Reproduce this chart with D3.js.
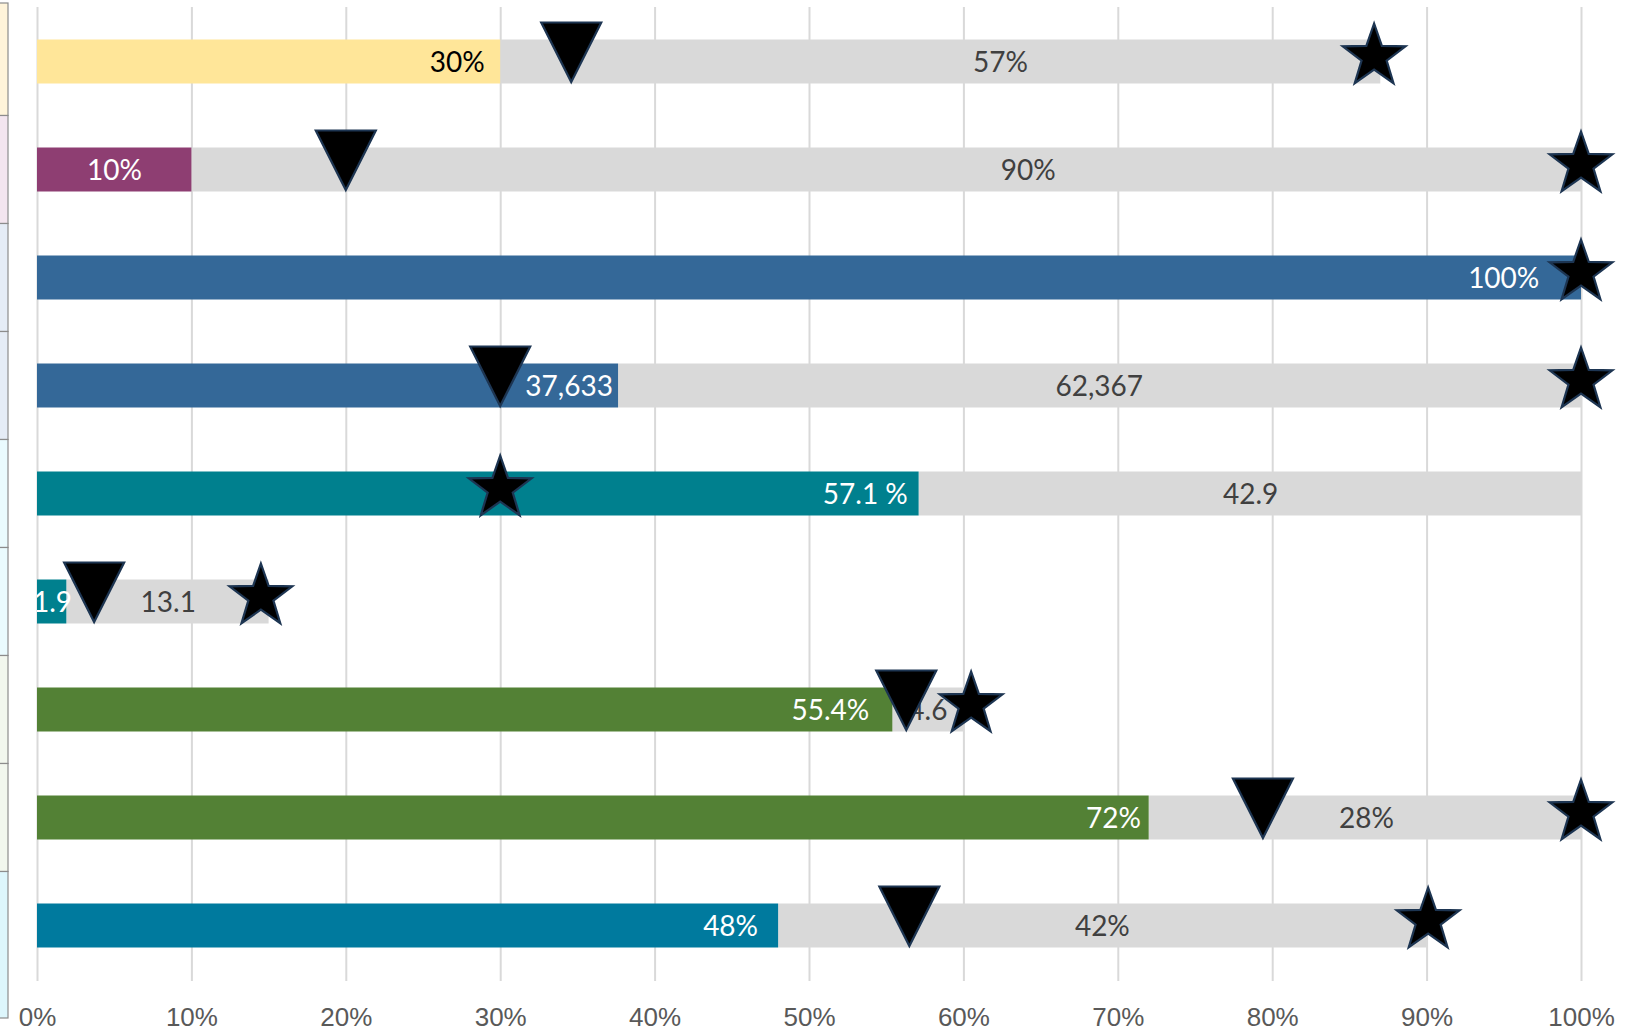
<!DOCTYPE html>
<html>
<head>
<meta charset="utf-8">
<script src="https://cdn.jsdelivr.net/npm/d3@7"></script>
<style>
	body { margin: 0; background: #fff; }
	svg { display: block; font-family: Lato, "Open Sans", sans-serif; }
</style>
</head>
<body>
<svg id="chart" width="1641" height="1033"></svg>
<script>
// share of the full bar (1 = 100%)
const filled = [0.30, 0.10, 1.00, 0.37633, 0.571, 0.019, 0.554, 0.72, 0.48];
const rest = [0.57, 0.90, 0, 0.62367, 0.429, 0.131, 0.046, 0.28, 0.42];
const filledLabels = ["30%", "10%", "100%", "37,633", "57.1 %", "1.9", "55.4%", "72%", "48%"];
const restLabels = ["57%", "90%", "", "62,367", "42.9", "13.1", "4.6", "28%", "42%"];
// where the labels sit, in the same units
const filledLabelAt = [0.290, 0.068, 0.973, 0.373, 0.564, 0.0227, 0.539, 0.715, 0.467];
const restLabelAt = [0.624, 0.642, 0, 0.688, 0.786, 0.085, 0.577, 0.861, 0.690];
const triangles = [0.346, 0.20, null, 0.30, null, 0.037, 0.563, 0.794, 0.565];
const stars = [0.866, 1.00, 1.00, 1.00, 0.30, 0.145, 0.605, 1.00, 0.901];
const ticks = [0, 0.1, 0.2, 0.3, 0.4, 0.5, 0.6, 0.7, 0.8, 0.9, 1.0];

const barColors = ["#FFE699", "#8E3E72", "#346898", "#346898", "#00808E", "#00808E", "#538135", "#538135", "#007A9E"];
const filledTextColors = ["#000", "#fff", "#fff", "#fff", "#fff", "#fff", "#fff", "#fff", "#fff"];
const cellColors = ["#FFF4DA", "#F3E5EF", "#E5ECF6", "#E5ECF6", "#EAFBFE", "#EAFBFE", "#F2F7EE", "#F2F7EE", "#DDF6FC"];

const drawBullets = (svg_name) => {
	let chart = d3.select(svg_name);
	let chart_width = +chart.attr("width");
	let chart_height = +chart.attr("height");
	let margin = {left: 37, right: 60, top: 7, bottom: 52};
	let barH = 44;
	let rows = d3.range(filled.length);

	let x = d3.scaleLinear()
		.domain([0, 1])
		.range([margin.left, chart_width - margin.right]);
	let y = d3.scalePoint()
		.domain(rows)
		.range([61.5, 925.5]);
	let step = y.step();

	addCells(chart, rows, y, step);
	addGrid(chart, x, margin, chart_height);
	addBars(chart, rows, x, y, barH);
	addLabels(chart, rows, x, y, chart_width, chart_height);
	addMarkers(chart, rows, x, y);
}

const addCells = (chart, rows, y, step) => {
	chart.append("g")
		.selectAll("rect")
		.data(rows)
		.join("rect")
		.attr("x", -1)
		.attr("y", (d, i) => i == 0 ? 3 : y(d) - step / 2)
		.attr("width", 9)
		.attr("height", (d, i) => {
			let top = i == 0 ? 3 : y(d) - step / 2;
			let bottom = i == rows.length - 1 ? 1018 : y(d) + step / 2;
			return bottom - top;
		})
		.style("fill", (d) => cellColors[d])
		.style("stroke", "#8c8c8c")
		.style("stroke-width", 1.2);
}

const addGrid = (chart, x, margin, height) => {
	let x_axis = d3.axisBottom(x)
		.tickValues(ticks)
		.tickFormat(d3.format(".0%"))
		.tickSize(-(974))
		.tickPadding(0);
	let g = chart.append("g")
		.attr("class", "x axis")
		.attr("transform", `translate(0,981)`)
		.call(x_axis);
	g.select(".domain").remove();
	g.selectAll(".tick line")
		.style("stroke", "#d9d9d9")
		.style("stroke-width", 2);
	g.selectAll(".tick text")
		.attr("y", 36)
		.attr("dy", "0.35em")
		.style("font-size", "26px")
		.style("fill", "#595959");
}

const addBars = (chart, rows, x, y, barH) => {
	let g = chart.append("g");
	g.selectAll(".rest")
		.data(rows.filter((d) => rest[d] > 0))
		.join("rect")
		.attr("class", "rest")
		.attr("x", (d) => x(filled[d]))
		.attr("y", (d) => y(d) - barH / 2)
		.attr("width", (d) => x(filled[d] + rest[d]) - x(filled[d]))
		.attr("height", barH)
		.style("fill", "#d9d9d9");
	g.selectAll(".fill")
		.data(rows)
		.join("rect")
		.attr("class", "fill")
		.attr("x", x(0))
		.attr("y", (d) => y(d) - barH / 2)
		.attr("width", (d) => x(filled[d]) - x(0))
		.attr("height", barH)
		.style("fill", (d) => barColors[d]);
}

const addLabels = (chart, rows, x, y, width, height) => {
	chart.append("clipPath")
		.attr("id", "plot-clip")
		.append("rect")
		.attr("x", x(0))
		.attr("y", 0)
		.attr("width", width - x(0))
		.attr("height", height);
	let g = chart.append("g")
		.attr("clip-path", "url(#plot-clip)")
		.style("font-size", "28px");
	g.selectAll(".filled-label")
		.data(rows)
		.join("text")
		.attr("class", "filled-label")
		.attr("x", (d) => x(filledLabelAt[d]))
		.attr("y", (d) => y(d))
		.attr("dy", "0.36em")
		.style("text-anchor", "end")
		.style("fill", (d) => filledTextColors[d])
		.text((d) => filledLabels[d]);
	g.selectAll(".rest-label")
		.data(rows.filter((d) => restLabels[d] != ""))
		.join("text")
		.attr("class", "rest-label")
		.attr("x", (d) => x(restLabelAt[d]))
		.attr("y", (d) => y(d))
		.attr("dy", "0.36em")
		.style("text-anchor", "middle")
		.style("fill", "#404040")
		.text((d) => restLabels[d]);
}

const starPath = (r) => {
	let pts = d3.range(10).map((i) => {
		let a = i * Math.PI / 5 - Math.PI / 2;
		let rr = i % 2 == 0 ? r : r * 0.4;
		return [rr * Math.cos(a), rr * Math.sin(a)];
	});
	return d3.line()(pts) + "Z";
}

const addMarkers = (chart, rows, x, y) => {
	let g = chart.append("g")
		.style("fill", "#000")
		.style("stroke", "#1d3552")
		.style("stroke-width", 2.2)
		.style("stroke-linejoin", "miter");
	// downward triangle, tip on the value
	g.selectAll(".tri")
		.data(rows.filter((d) => triangles[d] != null))
		.join("path")
		.attr("class", "tri")
		.attr("transform", (d) => `translate(${x(triangles[d])},${y(d)})`)
		.attr("d", d3.line()([[-30, -39], [30, -39], [0, 20.5]]) + "Z");
	g.selectAll(".star")
		.data(rows.filter((d) => stars[d] != null))
		.join("path")
		.attr("class", "star")
		.attr("transform", (d) => `translate(${x(stars[d])},${y(d) - 5})`)
		.attr("d", starPath(33));
}

drawBullets("#chart");
</script>
</body>
</html>
